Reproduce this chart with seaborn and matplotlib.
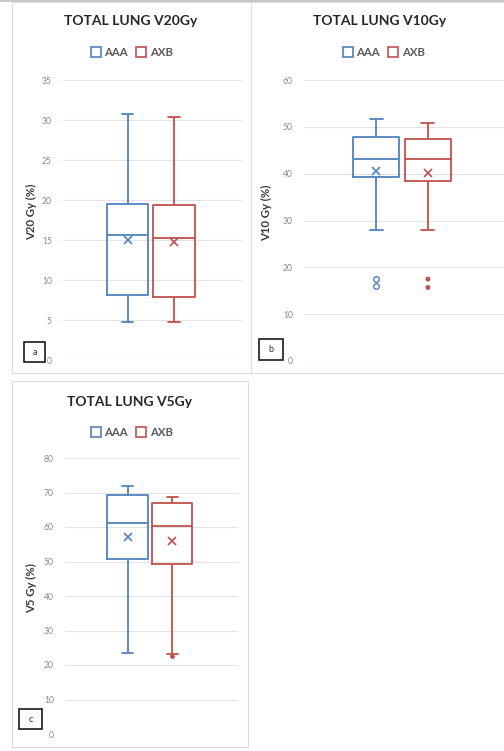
import matplotlib
matplotlib.use("Agg")
import matplotlib.pyplot as plt
from matplotlib.patches import Rectangle
from matplotlib.lines import Line2D
import numpy as np
import pandas as pd
import seaborn as sns

# ---- data (% of total lung volume) ----
groups = ["AAA", "AXB"]
palette = ["#4f81bd", "#c0504d"]

# five-number summaries: lower whisker, Q1, median, Q3, upper whisker
v20_aaa = [4.8, 8.1, 15.6, 19.45, 30.75]
v20_axb = [4.8, 7.9, 15.3, 19.4, 30.4]
v20_mean = [15.0, 14.8]
v20_out_aaa = []
v20_out_axb = []

v10_aaa = [28.0, 39.2, 43.1, 47.9, 51.6]
v10_axb = [28.0, 38.5, 43.1, 47.3, 50.9]
v10_mean = [40.6, 40.1]
v10_out_aaa = [16.0, 17.6]
v10_out_axb = [15.7, 17.5]

v5_aaa = [23.4, 50.7, 61.1, 69.2, 71.8]
v5_axb = [23.1, 49.3, 60.2, 66.9, 68.7]
v5_mean = [57.0, 55.8]
v5_out_aaa = []
v5_out_axb = [22.7]

titles = ["TOTAL LUNG V20Gy", "TOTAL LUNG V10Gy", "TOTAL LUNG V5Gy"]
ylabels = ["V20 Gy (%)", "V10 Gy (%)", "V5 Gy (%)"]
tags = ["a", "b", "c"]
ymax = [35, 60, 80]
ystep = [5, 10, 10]

W, H = 504, 751

sns.set_theme(style="white")
plt.rcParams["font.family"] = ["Lato", "DejaVu Sans"]

fig = plt.figure(figsize=(W / 100, H / 100), dpi=100)
fig.patch.set_facecolor("white")


def fx(x):
    return x / W


def fy(y):
    return 1 - y / H


def rect(x0, y0, x1, y1):
    return [fx(x0), fy(y1), (x1 - x0) / W, (y1 - y0) / H]


# layout of each chart, in pixels
layout = [
    dict(ax=(63, 80, 242, 360), frame=(12, 2, 251, 373), title=(131, 21),
         legend=(132, 52), ylab=32, tag=(24, 342, 45, 362)),
    dict(ax=(304, 80, 504, 361), frame=(251, 2, 512, 373), title=(380, 21),
         legend=(384, 52), ylab=267, tag=(259, 339, 283, 360)),
    dict(ax=(65, 458, 238, 734), frame=(12, 381, 248, 747), title=(130, 402),
         legend=(132, 432), ylab=32, tag=(19, 709, 42, 729)),
]

boxes = [(v20_aaa, v20_axb), (v10_aaa, v10_axb), (v5_aaa, v5_axb)]
means = [v20_mean, v10_mean, v5_mean]
outliers = [(v20_out_aaa, v20_out_axb), (v10_out_aaa, v10_out_axb),
            (v5_out_aaa, v5_out_axb)]

# top edge of the sheet
fig.add_artist(Line2D([0, 1], [fy(1), fy(1)], transform=fig.transFigure,
                      color="#c8c8c8", lw=1.5))

for i in range(3):
    L = layout[i]
    fr = L["frame"]
    fig.add_artist(Rectangle((fx(fr[0]), fy(fr[3])), (fr[2] - fr[0]) / W,
                             (fr[3] - fr[1]) / H, transform=fig.transFigure,
                             fill=False, ec="#dcdcdc", lw=0.8))

    ax = fig.add_axes(rect(*L["ax"]))
    ax.set_facecolor("white")

    aaa, axb = boxes[i]
    df = pd.DataFrame({
        "dose": "d",
        "Algorithm": ["AAA"] * len(aaa) + ["AXB"] * len(axb),
        "value": list(aaa) + list(axb),
    })
    sns.boxplot(data=df, x="dose", y="value", hue="Algorithm",
                hue_order=groups, palette=palette, fill=False, width=0.8,
                gap=0.1, whis=1.5, linewidth=1.3, showfliers=False,
                legend=False, ax=ax, capwidths=0.1)

    mdf = pd.DataFrame({"dose": "d", "Algorithm": groups, "value": means[i]})
    sns.pointplot(data=mdf, x="dose", y="value", hue="Algorithm",
                  hue_order=groups, palette=palette, dodge=0.4, markers="x",
                  linestyle="none", errorbar=None, legend=False, ax=ax,
                  markersize=6, markeredgewidth=1.2)

    o_aaa, o_axb = outliers[i]
    if o_aaa:
        n_before = len(ax.collections)
        odf = pd.DataFrame({"dose": "d", "Algorithm": "AAA", "value": o_aaa})
        sns.stripplot(data=odf, x="dose", y="value", hue="Algorithm",
                      hue_order=groups, palette=palette, dodge=True,
                      jitter=False, size=4, linewidth=1.0, legend=False, ax=ax)
        # AAA outliers are drawn as open rings
        for coll in ax.collections[n_before:]:
            coll.set_facecolor("white")
            coll.set_edgecolor(palette[0])
            coll.set_linewidth(1.0)
    if o_axb:
        odf = pd.DataFrame({"dose": "d", "Algorithm": "AXB", "value": o_axb})
        sns.stripplot(data=odf, x="dose", y="value", hue="Algorithm",
                      hue_order=groups, palette=palette, dodge=True,
                      jitter=False, size=3.5, linewidth=0, legend=False, ax=ax)

    ax.set_xlim(-0.76, 0.79)
    ax.set_ylim(0, ymax[i])
    ax.set_yticks(np.arange(0, ymax[i] + 1, ystep[i]))
    ax.set_xticks([])
    ax.set_xlabel("")
    ax.set_ylabel("")
    ax.yaxis.grid(True, color="#e4e4e4", lw=0.8)
    ax.set_axisbelow(True)
    for s in ax.spines.values():
        s.set_visible(False)
    ax.tick_params(axis="y", length=0, pad=8, labelsize=6.2, labelcolor="#8a8a8a")

    fig.text(fx(L["ylab"]), fy((L["ax"][1] + L["ax"][3]) / 2 - 8), ylabels[i],
             rotation=90, ha="center", va="center", fontsize=8.2,
             fontweight="bold", color="#3a3a3a")

    fig.text(fx(L["title"][0]), fy(L["title"][1]), titles[i], ha="center",
             va="center", fontsize=10, fontweight="bold", color="#262626")

    handles = [Line2D([], [], marker="s", ls="none", markersize=7.5,
                      markerfacecolor="white", markeredgecolor=c,
                      markeredgewidth=1.2) for c in palette]
    fig.legend(handles, groups, loc="center",
               bbox_to_anchor=(fx(L["legend"][0]), fy(L["legend"][1])),
               ncol=2, frameon=False, handlelength=0.8,
               handletextpad=0.35, columnspacing=0.8,
               prop=dict(weight="bold", size=8.2))
    for t in fig.legends[-1].get_texts():
        t.set_color("#595959")

    tg = L["tag"]
    fig.add_artist(Rectangle((fx(tg[0]), fy(tg[3])), (tg[2] - tg[0]) / W,
                             (tg[3] - tg[1]) / H, transform=fig.transFigure,
                             fill=False, ec="#1a1a1a", lw=1.2))
    fig.text(fx((tg[0] + tg[2]) / 2), fy((tg[1] + tg[3]) / 2), tags[i],
             ha="center", va="center", fontsize=6.5, color="#333333")

fig.savefig("out.png", dpi=100, facecolor="white")
